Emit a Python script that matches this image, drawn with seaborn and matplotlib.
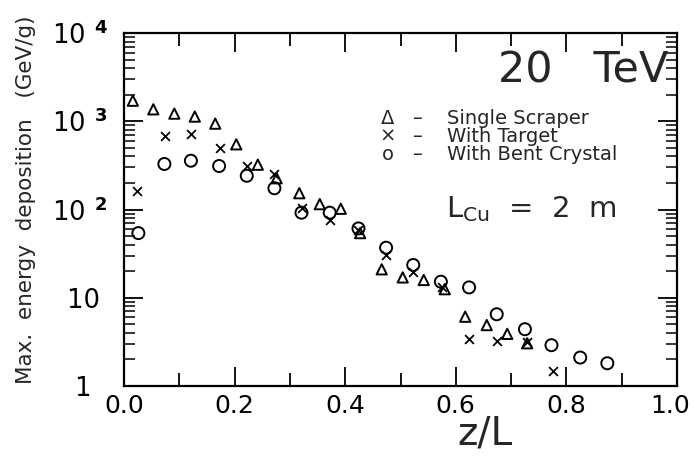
import matplotlib
matplotlib.use("Agg")
import matplotlib.pyplot as plt
import seaborn as sns
import pandas as pd
from matplotlib.transforms import ScaledTranslation
from matplotlib.ticker import FixedLocator, LogLocator, MultipleLocator, NullFormatter, FixedFormatter

# ---- data ----
scraper_z = [0.016, 0.053, 0.091, 0.128, 0.165, 0.203, 0.242, 0.276, 0.317, 0.354, 0.392,
             0.427, 0.466, 0.504, 0.542, 0.580, 0.617, 0.656, 0.693, 0.729]
scraper_v = [1710, 1365, 1220, 1130, 940, 548, 322, 226, 153, 115, 102,
             54, 21, 17, 15.9, 12.5, 6.1, 4.9, 3.9, 3.05]

target_z = [0.023, 0.074, 0.122, 0.174, 0.222, 0.271, 0.322, 0.372, 0.424, 0.474,
            0.523, 0.575, 0.624, 0.674, 0.728, 0.775]
target_v = [163, 680, 717, 494, 311, 252, 105, 77, 58.6, 30.5,
            19.7, 13.3, 3.4, 3.26, 3.18, 1.49]

crystal_z = [0.026, 0.073, 0.121, 0.172, 0.222, 0.272, 0.321, 0.372, 0.424, 0.474,
             0.523, 0.573, 0.624, 0.674, 0.725, 0.773, 0.825, 0.874]
crystal_v = [54, 328, 357, 311, 241, 174, 92, 92, 61, 36.9,
             23.5, 15.2, 13.1, 6.5, 4.4, 2.9, 2.1, 1.81]

ytick_vals = [1, 10, 100, 1000, 10000]
ytick_labels = ["1  ", "10 ",
                "10$^{\\;\\;\\mathbf{2}}$", "10$^{\\;\\;\\mathbf{3}}$", "10$^{\\;\\;\\mathbf{4}}$"]
xtick_vals = [0.0, 0.2, 0.4, 0.6, 0.8, 1.0]
xtick_labels = ["0.0", "0.2", "0.4", "0.6", "0.8", "1.0"]

legend_symbols = ["\u0394", "\u00d7", "o"]
legend_names = ["Single Scraper", "With Target", "With Bent Crystal"]

sns.set_style("ticks")
plt.rcParams["font.family"] = ["DejaVu Sans"]

fig = plt.figure(figsize=(6.94, 4.62), dpi=100)
ax = fig.add_axes([124 / 694, 1 - 386 / 462, (677 - 124) / 694, (386 - 33) / 462])

df_s = pd.DataFrame({"z": scraper_z, "v": scraper_v})
df_t = pd.DataFrame({"z": target_z, "v": target_v})
df_c = pd.DataFrame({"z": crystal_z, "v": crystal_v})

sns.scatterplot(data=df_s, x="z", y="v", marker="^", s=55, facecolor="none",
                edgecolor="black", linewidth=1.4, ax=ax, zorder=3)
sns.scatterplot(data=df_t, x="z", y="v", marker="x", s=40, color="black",
                linewidth=1.3, ax=ax, zorder=3)
sns.scatterplot(data=df_c, x="z", y="v", marker="o", s=75, facecolor="none",
                edgecolor="black", linewidth=1.4, ax=ax, zorder=3)

ax.set_yscale("log")
ax.set_xlim(0, 1)
ax.set_ylim(1, 1e4)

ax.xaxis.set_major_locator(FixedLocator(xtick_vals))
ax.xaxis.set_major_formatter(FixedFormatter(xtick_labels))
ax.xaxis.set_minor_locator(MultipleLocator(0.1))
ax.yaxis.set_major_locator(FixedLocator(ytick_vals))
ax.yaxis.set_major_formatter(FixedFormatter(ytick_labels))
ax.yaxis.set_minor_locator(LogLocator(base=10, subs=range(2, 10), numticks=20))
ax.yaxis.set_minor_formatter(NullFormatter())

ax.tick_params(axis="both", which="both", direction="in", top=True, right=True, colors="black")
ax.tick_params(axis="x", which="major", length=14, width=1.3, labelsize=18, pad=6)
ax.tick_params(axis="x", which="minor", length=9.5, width=1.3)
ax.tick_params(axis="y", which="major", length=14, width=1.3, labelsize=18.5, pad=11.5)
ax.tick_params(axis="y", which="minor", length=8, width=1.1)
for sp in ax.spines.values():
    sp.set_linewidth(1.6)
    sp.set_color("black")

# keep the last x tick label inside the figure
fig.canvas.draw()
last = ax.get_xticklabels()[-1]
last.set_transform(last.get_transform() + ScaledTranslation(-5 / 72, 0, fig.dpi_scale_trans))

ax.set_xlabel("z/L", fontsize=28)
ax.xaxis.set_label_coords(0.653, -0.08)
ax.set_ylabel("Max.  energy  deposition   (GeV/g)", fontsize=15.5)
ax.yaxis.set_label_coords(-0.16, 0.527)

ax.text(0.985, 0.895, "20   TeV", transform=ax.transAxes, fontsize=31, ha="right", va="center")
for i, (sym, name) in enumerate(zip(legend_symbols, legend_names)):
    yy = 0.757 - i * 0.05
    ax.text(0.477, yy, sym, transform=ax.transAxes, fontsize=14, ha="center", va="center")
    ax.text(0.532, yy, "\u2013", transform=ax.transAxes, fontsize=14, ha="center", va="center")
    ax.text(0.584, yy, name, transform=ax.transAxes, fontsize=14, ha="left", va="center")
ax.text(0.583, 0.50, "L$_{\\mathrm{Cu}}$  =  2  m", transform=ax.transAxes, fontsize=21, ha="left", va="center")

fig.savefig("out.png", dpi=100, facecolor="white")
